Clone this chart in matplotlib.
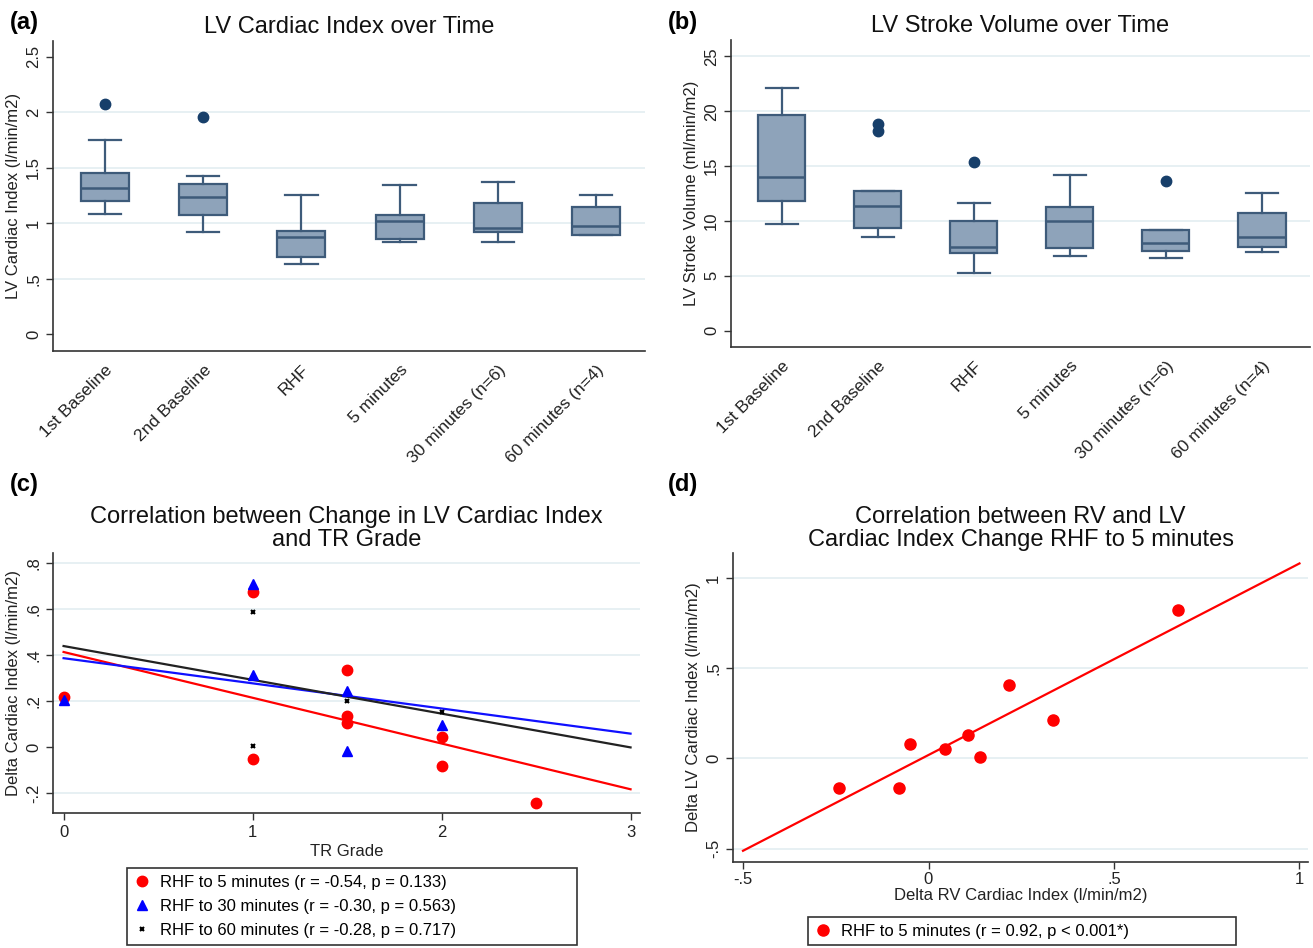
import matplotlib.pyplot as plt
import numpy as np

plt.rcParams['font.family'] = ['Liberation Sans', 'DejaVu Sans']

# time points shared by panels (a) and (b)
categories = ['1st Baseline', '2nd Baseline', 'RHF', '5 minutes',
              '30 minutes (n=6)', '60 minutes (n=4)']

# (a) LV cardiac index: whisker low, Q1, median, Q3, whisker high, outliers
ci_lo = [1.08, 0.92, 0.63, 0.83, 0.83, 0.89]
ci_q1 = [1.20, 1.07, 0.70, 0.855, 0.92, 0.89]
ci_med = [1.315, 1.235, 0.88, 1.02, 0.96, 0.975]
ci_q3 = [1.455, 1.355, 0.93, 1.075, 1.18, 1.15]
ci_hi = [1.75, 1.425, 1.255, 1.34, 1.37, 1.25]
ci_out = [[2.075], [1.96], [], [], [], []]

# (b) LV stroke volume
sv_lo = [9.7, 8.55, 5.25, 6.8, 6.6, 7.2]
sv_q1 = [11.85, 9.35, 7.05, 7.55, 7.3, 7.6]
sv_med = [14.05, 11.35, 7.65, 10.0, 7.95, 8.55]
sv_q3 = [19.7, 12.7, 10.0, 11.25, 9.15, 10.75]
sv_hi = [22.15, 12.7, 11.65, 14.2, 9.15, 12.55]
sv_out = [[], [18.2, 18.8], [15.35], [], [13.6], []]

# (c) delta cardiac index vs TR grade
tr_5 = [0, 1, 1, 1.5, 1.5, 1.5, 2, 2, 2.5]
dci_5 = [0.22, 0.673, -0.049, 0.336, 0.137, 0.106, 0.043, -0.080, -0.242]
tr_30 = [0, 1, 1, 1.5, 1.5, 2]
dci_30 = [0.207, 0.711, 0.313, 0.246, -0.014, 0.096]
tr_60 = [1, 1, 1.5, 2]
dci_60 = [0.588, 0.007, 0.203, 0.155]

# (d) delta RV vs delta LV cardiac index, RHF to 5 minutes
drv = [-0.242, -0.080, -0.049, 0.044, 0.106, 0.140, 0.218, 0.336, 0.673]
dlv = [-0.163, -0.161, 0.080, 0.052, 0.130, 0.009, 0.406, 0.215, 0.822]

W, H = 1313, 948
fig = plt.figure(figsize=(W / 100, H / 100), dpi=100)

BOX_FILL = '#8ea3ba'
BOX_EDGE = '#3e5b7a'
DOT = '#173f6a'
GRID = '#e3edf1'


def px_axes(l, t, r, b):
    return fig.add_axes([l / W, 1 - b / H, (r - l) / W, (b - t) / H])


def stata_style(ax, grid_vals):
    for s in ['top', 'right']:
        ax.spines[s].set_visible(False)
    for s in ['left', 'bottom']:
        ax.spines[s].set_color('#333333')
        ax.spines[s].set_linewidth(1.2)
    for v in grid_vals:
        ax.axhline(v, color=GRID, lw=1.2, zorder=0)
    ax.tick_params(colors='#333333', labelsize=12, length=5, width=1)
    ax.tick_params(axis='y', labelcolor='#222222')
    ax.tick_params(axis='x', labelcolor='#222222')


def box_panel(ax, lo, q1, med, q3, hi, out, ylim, yt, ytl, grid_vals, ylabel, title):
    stats = []
    for i in range(len(categories)):
        stats.append(dict(whislo=lo[i], q1=q1[i], med=med[i], q3=q3[i],
                          whishi=hi[i], fliers=out[i], label=categories[i]))
    ax.bxp(stats, positions=range(1, 7), widths=0.49, patch_artist=True,
           capwidths=0.33,
           boxprops=dict(facecolor=BOX_FILL, edgecolor=BOX_EDGE, lw=1.6),
           medianprops=dict(color=BOX_EDGE, lw=1.8),
           whiskerprops=dict(color=BOX_EDGE, lw=1.6),
           capprops=dict(color=BOX_EDGE, lw=1.6),
           flierprops=dict(marker='o', markerfacecolor=DOT, markeredgecolor=DOT,
                           markersize=7.5))
    stata_style(ax, grid_vals)
    ax.set_xlim(0.47, 6.5)
    ax.set_ylim(*ylim)
    ax.set_yticks(yt)
    ax.set_yticklabels(ytl, rotation=90, va='center')
    ax.set_xticks(range(1, 7))
    ax.set_xticklabels(categories, rotation=45, ha='right', rotation_mode='anchor',
                       fontsize=12.5)
    ax.tick_params(axis='x', length=0, pad=8)
    ax.set_ylabel(ylabel, fontsize=12, color='#222222', labelpad=4)
    ax.set_title(title, fontsize=17, pad=6, color='#111111')


# ---- (a)
ax_a = px_axes(53, 41, 645, 351)
box_panel(ax_a, ci_lo, ci_q1, ci_med, ci_q3, ci_hi, ci_out, (-0.15, 2.64),
          [0, 0.5, 1, 1.5, 2, 2.5], ['0', '.5', '1', '1.5', '2', '2.5'],
          [0.5, 1, 1.5, 2], 'LV Cardiac Index (l/min/m2)', 'LV Cardiac Index over Time')

# ---- (b)
ax_b = px_axes(731, 40, 1310, 347)
box_panel(ax_b, sv_lo, sv_q1, sv_med, sv_q3, sv_hi, sv_out, (-1.5, 26.5),
          [0, 5, 10, 15, 20, 25], ['0', '5', '10', '15', '20', '25'],
          [5, 10, 15, 20, 25], 'LV Stroke Volume (ml/min/m2)', 'LV Stroke Volume over Time')

# ---- (c)
ax_c = px_axes(53, 553, 640, 813)
stata_style(ax_c, [-0.2, 0.2, 0.4, 0.6, 0.8])
xs = np.array([0, 3])
for x, y, c in [(tr_5, dci_5, 'red'), (tr_30, dci_30, '#1010ff'), (tr_60, dci_60, '#222222')]:
    k, b0 = np.polyfit(x, y, 1)
    ax_c.plot(xs, k * xs + b0, color=c, lw=1.6, zorder=2)
ax_c.plot(tr_5, dci_5, 'o', color='red', ms=7.5, ls='none', zorder=3,
          label='RHF to 5 minutes (r = -0.54, p = 0.133)')
ax_c.plot(tr_30, dci_30, '^', color='#0000ff', ms=7.5, ls='none', zorder=3,
          label='RHF to 30 minutes (r = -0.30, p = 0.563)')
ax_c.plot(tr_60, dci_60, 'x', color='black', ms=3.5, mew=1.5, ls='none', zorder=4,
          label='RHF to 60 minutes (r = -0.28, p = 0.717)')
ax_c.set_xlim(-0.056, 3.05)
ax_c.set_ylim(-0.285, 0.844)
ax_c.set_xticks([0, 1, 2, 3])
ax_c.set_xticklabels(['0', '1', '2', '3'])
ax_c.set_yticks([-0.2, 0, 0.2, 0.4, 0.6, 0.8])
ax_c.set_yticklabels(['-.2', '0', '.2', '.4', '.6', '.8'], rotation=90, va='center')
ax_c.set_xlabel('TR Grade', fontsize=12, color='#222222', labelpad=3)
ax_c.set_ylabel('Delta Cardiac Index (l/min/m2)', fontsize=12, color='#222222', labelpad=4)
ax_c.set_title('Correlation between Change in LV Cardiac Index\nand TR Grade',
               fontsize=17, pad=5, color='#111111', linespacing=1.05)
leg_c = ax_c.legend(loc='upper left', bbox_to_anchor=(127 / W, 1 - 946 / H, 450 / W, 78 / H),
                    bbox_transform=fig.transFigure, mode='expand', fontsize=12,
                    frameon=True, fancybox=False, edgecolor='#333333', framealpha=1,
                    handlelength=1.0, handletextpad=0.6, labelspacing=0.55,
                    borderpad=0.4, borderaxespad=0)
leg_c.get_frame().set_linewidth(1.2)

# ---- (d)
ax_d = px_axes(733, 553, 1308, 862)
stata_style(ax_d, [-0.5, 0, 0.5, 1])
xd = np.array([-0.5, 1.0])
k, b0 = np.polyfit(drv, dlv, 1)
ax_d.plot(xd, k * xd + b0, color='red', lw=1.6, zorder=2)
ax_d.plot(drv, dlv, 'o', color='red', ms=8, ls='none', zorder=3,
          label='RHF to 5 minutes (r = 0.92, p < 0.001*)')
ax_d.set_xlim(-0.527, 1.023)
ax_d.set_ylim(-0.574, 1.139)
ax_d.set_xticks([-0.5, 0, 0.5, 1])
ax_d.set_xticklabels(['-.5', '0', '.5', '1'])
ax_d.set_yticks([-0.5, 0, 0.5, 1])
ax_d.set_yticklabels(['-.5', '0', '.5', '1'], rotation=90, va='center')
ax_d.tick_params(axis='x', pad=2)
ax_d.set_xlabel('Delta RV Cardiac Index (l/min/m2)', fontsize=12, color='#222222', labelpad=1)
ax_d.set_ylabel('Delta LV Cardiac Index (l/min/m2)', fontsize=12, color='#222222', labelpad=4)
ax_d.set_title('Correlation between RV and LV\nCardiac Index Change RHF to 5 minutes',
               fontsize=17, pad=5, color='#111111', linespacing=1.05)
leg_d = ax_d.legend(loc='upper left', bbox_to_anchor=(808 / W, 1 - 960 / H, 428 / W, 43 / H),
                    bbox_transform=fig.transFigure, mode='expand', fontsize=12,
                    frameon=True, fancybox=False, edgecolor='#333333', framealpha=1,
                    handlelength=1.0, handletextpad=0.6, borderpad=0.4, borderaxespad=0)
leg_d.get_frame().set_linewidth(1.2)

# panel letters
for lab, x, y in [('(a)', 10, 22), ('(b)', 668, 22), ('(c)', 10, 485), ('(d)', 668, 485)]:
    fig.text(x / W, 1 - y / H, lab, fontsize=17, fontweight='bold', va='center', ha='left')

fig.savefig('out.png', dpi=100, facecolor='white')
